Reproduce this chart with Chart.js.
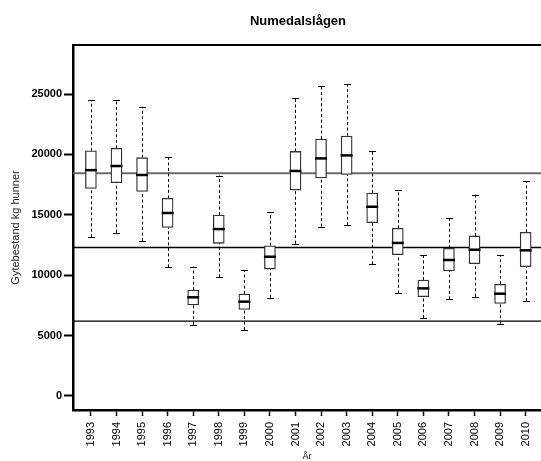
<!DOCTYPE html>
<html>
<head>
<meta charset="utf-8">
<script src="https://cdn.jsdelivr.net/npm/chart.js@4"></script>
<style>
  html, body { margin: 0; padding: 0; background: #fff; }
  #wrap { width: 541px; height: 461px; position: relative; }
</style>
</head>
<body>
<div id="wrap"><canvas id="chart"></canvas></div>
<script>
// Data (kg hunner)
const years = [1993, 1994, 1995, 1996, 1997, 1998, 1999, 2000, 2001, 2002, 2003, 2004, 2005, 2006, 2007, 2008, 2009, 2010];
const whiskerLow = [13140, 13520, 12830, 10650, 5900, 9820, 5460, 8140, 12610, 14020, 14130, 10900, 8500, 6460, 8000, 8220, 5980, 7860];
const quart1 = [17190, 17660, 16940, 13960, 7530, 12640, 7170, 10510, 17050, 18050, 18350, 14350, 11700, 8220, 10350, 10950, 7670, 10700];
const medians = [18700, 19040, 18300, 15150, 8170, 13820, 7810, 11530, 18630, 19670, 19920, 15670, 12670, 8910, 11260, 12110, 8470, 12060];
const quart3 = [20300, 20500, 19730, 16360, 8770, 14980, 8440, 12440, 20250, 21270, 21520, 16800, 13880, 9600, 12230, 13250, 9250, 13550];
const whiskerHigh = [24500, 24500, 23950, 19760, 10710, 18240, 10400, 15210, 24700, 25690, 25830, 20310, 17030, 11640, 14760, 16670, 11640, 17770];
const refLines = [18450, 12300, 6200];
const yTicks = [0, 5000, 10000, 15000, 20000, 25000];

Chart.defaults.font.family = "'Liberation Sans', Arial, sans-serif";
Chart.defaults.color = '#000';

// whiskers, medians, reference lines and frame drawn through the chart's scales
const boxExtras = {
  id: 'boxExtras',
  beforeDatasetsDraw(chart) {
    const { ctx, chartArea, scales: { x, y } } = chart;
    ctx.save();
    refLines.forEach((v, i) => {
      const py = y.getPixelForValue(v);
      ctx.beginPath();
      ctx.strokeStyle = i === 0 ? '#6a6a6a' : '#000';
      ctx.lineWidth = i === 0 ? 2 : (i === 1 ? 1.5 : 1.2);
      ctx.moveTo(chartArea.left, py);
      ctx.lineTo(chartArea.right, py);
      ctx.stroke();
    });
    // whiskers (dashed)
    ctx.strokeStyle = '#000';
    ctx.lineWidth = 1;
    ctx.setLineDash([3, 2.5]);
    years.forEach((yr, i) => {
      const px = Math.round(x.getPixelForValue(yr)) + 0.5;
      ctx.beginPath();
      ctx.moveTo(px, y.getPixelForValue(whiskerLow[i]));
      ctx.lineTo(px, y.getPixelForValue(quart1[i]));
      ctx.moveTo(px, y.getPixelForValue(quart3[i]));
      ctx.lineTo(px, y.getPixelForValue(whiskerHigh[i]));
      ctx.stroke();
    });
    ctx.setLineDash([]);
    years.forEach((yr, i) => {
      const px = Math.round(x.getPixelForValue(yr)) + 0.5;
      [whiskerLow[i], whiskerHigh[i]].forEach(v => {
        const py = Math.round(y.getPixelForValue(v)) + 0.5;
        ctx.beginPath();
        ctx.moveTo(px - 3.5, py);
        ctx.lineTo(px + 3.5, py);
        ctx.stroke();
      });
    });
    ctx.restore();
  },
  afterDatasetsDraw(chart) {
    const { ctx, chartArea, scales: { x, y } } = chart;
    ctx.save();
    ctx.strokeStyle = '#000';
    ctx.lineWidth = 2.5;
    years.forEach((yr, i) => {
      const px = x.getPixelForValue(yr);
      const py = y.getPixelForValue(medians[i]);
      ctx.beginPath();
      ctx.moveTo(px - 6, py);
      ctx.lineTo(px + 6, py);
      ctx.stroke();
    });
    // top frame
    ctx.lineWidth = 2;
    ctx.beginPath();
    ctx.moveTo(chartArea.left - 1, chartArea.top);
    ctx.lineTo(chartArea.right, chartArea.top);
    ctx.stroke();
    // main title
    ctx.fillStyle = '#000';
    ctx.font = "bold 13px 'Liberation Sans', Arial, sans-serif";
    ctx.textAlign = 'center';
    ctx.textBaseline = 'middle';
    ctx.fillText('Numedalslågen', 298, 21);
    ctx.restore();
  }
};

const ctx = document.getElementById('chart').getContext('2d');
const chart = new Chart(ctx, {
  type: 'bar',
  data: {
    datasets: [{
      label: 'Gytebestand',
      data: years.map((yr, i) => ({ x: yr, y: [quart1[i], quart3[i]] })),
      backgroundColor: '#fff',
      borderColor: '#333',
      borderWidth: 1.3,
      borderSkipped: false,
      barThickness: 11
    }]
  },
  options: {
    responsive: true,
    maintainAspectRatio: false,
    animation: false,
    layout: { padding: { top: 45, right: 0, left: 0, bottom: 0 } },
    plugins: {
      legend: { display: false },
      tooltip: { enabled: false },
      title: { display: false }
    },
    scales: {
      x: {
        type: 'linear',
        offset: false,
        min: 1992.3,
        max: 2010.6,
        afterBuildTicks: (s) => { s.ticks = years.map(v => ({ value: v })); },
        afterFit: (s) => { s.height = 51; s.paddingLeft = 0; s.paddingRight = 0; },
        grid: { offset: false, drawOnChartArea: false, drawTicks: true, tickLength: 6, tickWidth: 1.5, tickColor: '#000' },
        border: { display: true, color: '#000', width: 2.5 },
        ticks: {
          autoSkip: false,
          minRotation: 90,
          maxRotation: 90,
          padding: 6,
          font: { size: 11 },
          color: '#000',
          callback: (v) => String(v)
        },
        title: {
          display: true,
          text: 'År',
          font: { size: 9 },
          color: '#000',
          padding: { top: 0, bottom: -1 }
        }
      },
      y: {
        min: -1160,
        max: 29060,
        afterBuildTicks: (s) => { s.ticks = yTicks.map(v => ({ value: v })); },
        afterFit: (s) => { s.width = 73; s.paddingTop = 0; s.paddingBottom = 0; },
        grid: { drawOnChartArea: false, drawTicks: true, tickLength: 9, tickWidth: 2, tickColor: '#000' },
        border: { display: true, color: '#000', width: 2.5 },
        ticks: {
          padding: 2,
          font: { size: 11, weight: 'bold' },
          color: '#000',
          callback: (v) => String(v)
        },
        title: {
          display: true,
          text: 'Gytebestand kg hunner',
          font: { size: 11 },
          color: '#222',
          padding: { top: 9, bottom: 0 }
        }
      }
    }
  },
  plugins: [boxExtras]
});
</script>
</body>
</html>
